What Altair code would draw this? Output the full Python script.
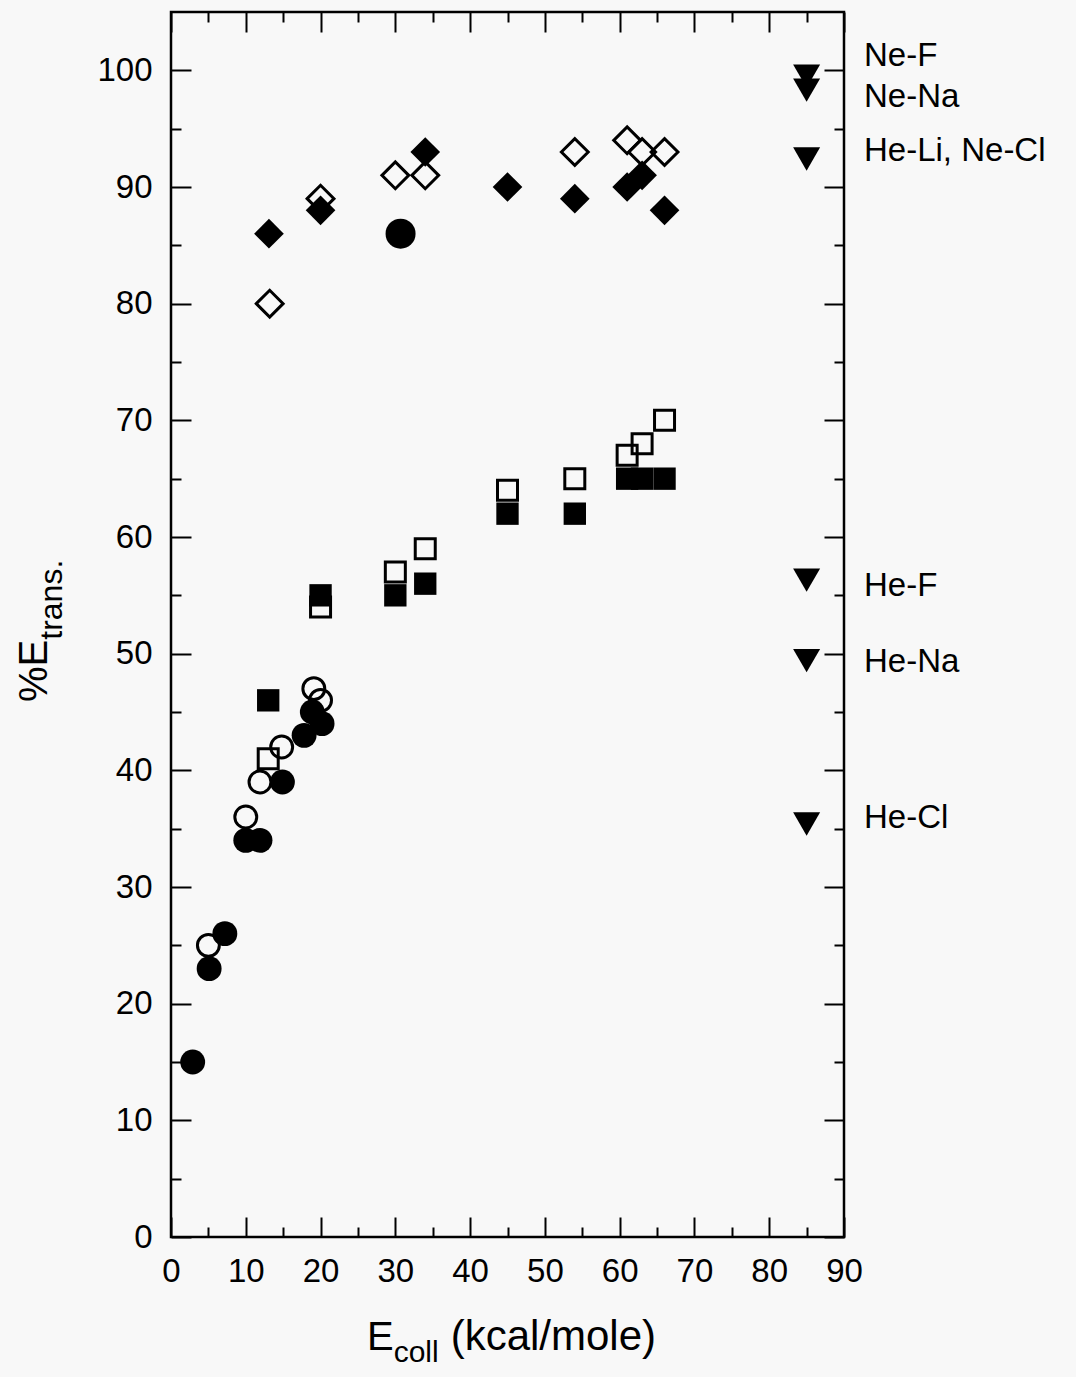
import altair as alt
import pandas as pd

# ---------------- data ----------------
# filled circles
fc_x = [2.9, 5.1, 7.2, 10.0, 11.9, 14.9, 17.8, 18.9, 20.2]
fc_y = [15, 23, 26, 34, 34, 39, 43, 45, 44]
# large filled circle
bc_x = [30.7]
bc_y = [86]
# open circles
oc_x = [5.0, 10.0, 11.9, 14.8, 19.1, 20.0]
oc_y = [25, 36, 39, 42, 47, 46]
# filled squares
fs_x = [13.0, 20.0, 30.0, 34.0, 45.0, 54.0, 61.0, 63.0, 66.0]
fs_y = [46, 55, 55, 56, 62, 62, 65, 65, 65]
# open squares
os_x = [13.0, 20.0, 30.0, 34.0, 45.0, 54.0, 61.0, 63.0, 66.0]
os_y = [41, 54, 57, 59, 64, 65, 67, 68, 70]
# filled diamonds
fd_x = [13.1, 20.0, 34.0, 45.0, 54.0, 61.0, 63.0, 66.0]
fd_y = [86, 88, 93, 90, 89, 90, 91, 88]
# open diamonds
od_x = [13.2, 20.0, 30.0, 34.0, 54.0, 61.0, 63.0, 66.0]
od_y = [80, 89, 91, 91, 93, 94, 93, 93]
# down triangles (limits) and their labels
tri_x = [85, 85, 85, 85, 85, 85]
tri_y = [99.5, 98.3, 92.4, 56.3, 49.4, 35.4]
lab_text = ["Ne-F", "Ne-Na", "He-Li, Ne-Cl", "He-F", "He-Na", "He-Cl"]
lab_y = [101.2, 97.7, 93.1, 55.8, 49.3, 35.9]

x_major = [0, 10, 20, 30, 40, 50, 60, 70, 80, 90]
x_minor = [5, 15, 25, 35, 45, 55, 65, 75, 85]
y_major = [0, 10, 20, 30, 40, 50, 60, 70, 80, 90, 100]
y_minor = [5, 15, 25, 35, 45, 55, 65, 75, 85, 95]

# ---------------- layout ----------------
W, H = 673, 1225
FONT = "Liberation Sans"
TICK_FS = 33
TITLE_FS = 40
SUB_FS = 30
LAB_FS = 33

xscale = alt.Scale(domain=[0, 90], nice=False, zero=False)
yscale = alt.Scale(domain=[0, 105], nice=False, zero=False)


def axis(orient, values, size, labels, pad=18):
    kw = dict(orient=orient, values=values, tickSize=size, offset=-size,
              domain=False, grid=False, title=None, ticks=True,
              tickColor="black", tickWidth=2, labels=labels)
    if labels:
        kw.update(labelFont=FONT, labelFontSize=TICK_FS, labelColor="black",
                  labelPadding=pad, labelFlush=False, labelOverlap=False)
    return alt.Axis(**kw)


def pts(xs, ys, xaxis=None, yaxis=None):
    df = pd.DataFrame({"x": xs, "y": ys})
    return alt.Chart(df), alt.X("x:Q", scale=xscale, axis=xaxis), alt.Y("y:Q", scale=yscale, axis=yaxis)


# open circles (carry bottom/left major axes)
c, ex, ey = pts(oc_x, oc_y, axis("bottom", x_major, 20, True, 18), axis("left", y_major, 20, True, 19))
open_c = c.mark_point(shape="circle", filled=False, size=480, strokeWidth=3,
                      color="black", opacity=1).encode(x=ex, y=ey)

# open squares (bottom/left minor)
c, ex, ey = pts(os_x, os_y, axis("bottom", x_minor, 10, False), axis("left", y_minor, 10, False))
open_s = c.mark_point(shape="square", filled=False, size=400, strokeWidth=3,
                      color="black", opacity=1).encode(x=ex, y=ey)

# open diamonds (top/right major)
c, ex, ey = pts(od_x, od_y, axis("top", x_major, 20, False), axis("right", y_major, 20, False))
open_d = c.mark_point(shape="diamond", filled=False, size=720, strokeWidth=3,
                      color="black", opacity=1).encode(x=ex, y=ey)

# filled circles (top/right minor)
c, ex, ey = pts(fc_x, fc_y, axis("top", x_minor, 10, False), axis("right", y_minor, 10, False))
fill_c = c.mark_point(shape="circle", filled=True, size=620,
                      color="black", opacity=1).encode(x=ex, y=ey)

c, ex, ey = pts(bc_x, bc_y)
big_c = c.mark_point(shape="circle", filled=True, size=900,
                     color="black", opacity=1).encode(x=ex, y=ey)

c, ex, ey = pts(fs_x, fs_y)
fill_s = c.mark_point(shape="square", filled=True, size=500,
                      color="black", opacity=1).encode(x=ex, y=ey)

c, ex, ey = pts(fd_x, fd_y)
fill_d = c.mark_point(shape="diamond", filled=True, size=880,
                      color="black", opacity=1).encode(x=ex, y=ey)

c, ex, ey = pts(tri_x, tri_y)
tri = c.mark_point(shape="triangle-down", filled=True, size=730,
                   color="black", opacity=1).encode(x=ex, y=ey)

lab_df = pd.DataFrame({"t": lab_text, "y": lab_y})
labels = alt.Chart(lab_df).mark_text(
    font=FONT, fontSize=LAB_FS, align="left", baseline="middle", color="black"
).encode(x=alt.value(W + 20), y=alt.Y("y:Q", scale=yscale, axis=None), text="t:N")


def txt(s, x, y, fs, angle=0):
    m = dict(font=FONT, fontSize=fs, align="left", baseline="alphabetic", color="black")
    if angle:
        m["angle"] = angle
    return alt.Chart(pd.DataFrame({"t": [s]})).mark_text(**m).encode(
        x=alt.value(x), y=alt.value(y), text="t:N")


# x-axis title: E_coll (kcal/mole)
xt0 = 196
xb = H + 113
e_w = 0.667 * TITLE_FS
coll_w = 1.5 * SUB_FS
xt_E = txt("E", xt0, xb, TITLE_FS)
xt_sub = txt("coll", xt0 + e_w, xb + 12, SUB_FS)
xt_rest = txt("(kcal/mole)", xt0 + e_w + coll_w + 0.3 * TITLE_FS, xb, TITLE_FS + 2)

# y-axis title: %E_trans.
yb = -124
yt0 = 690
pe_w = (0.889 + 0.667) * TITLE_FS
yt_E = txt("%E", yb, yt0, TITLE_FS, 270)
yt_sub = txt("trans.", yb + 15, yt0 - pe_w, SUB_FS + 2, 270)

chart = alt.layer(
    open_c, open_s, open_d, fill_c, big_c, fill_s, fill_d, tri, labels,
    xt_E, xt_sub, xt_rest, yt_E, yt_sub
).resolve_axis(
    x="independent", y="independent"
).resolve_scale(
    x="shared", y="shared"
).properties(
    width=W, height=H,
    autosize=alt.AutoSizeParams(type="none"),
    padding={"left": 171, "top": 12, "right": 232, "bottom": 140},
    background="#f8f8f8",
).configure_view(
    stroke="black", strokeWidth=2.5
)

chart.save("out.html", embed_options={"renderer": "svg", "actions": False})
